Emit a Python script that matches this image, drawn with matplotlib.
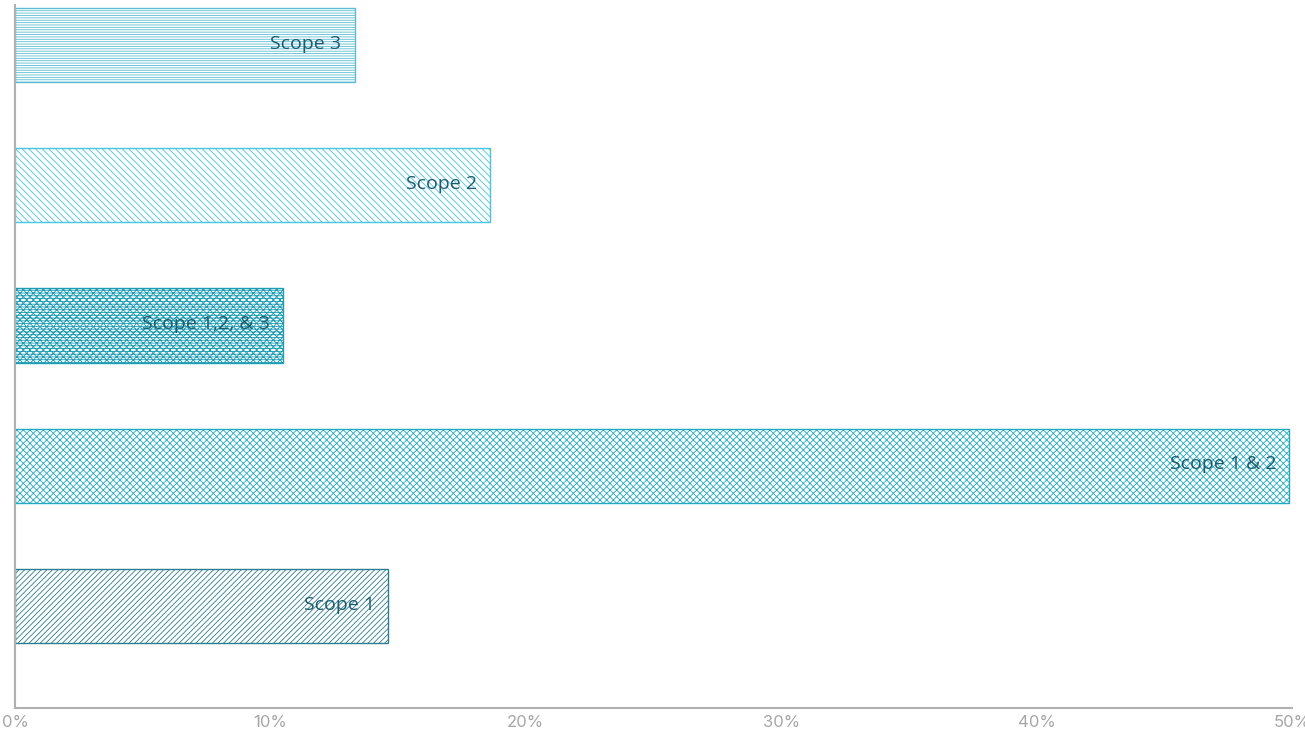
import matplotlib.pyplot as plt
import matplotlib as mpl

# values (percent of companies)
labels = ["Scope 1", "Scope 1 & 2", "Scope 1,2, & 3", "Scope 2", "Scope 3"]
values = [14.6, 49.9, 10.5, 18.6, 13.3]
colors = ["#2b7d8f", "#22a9c2", "#1e9db5", "#45c6de", "#5cbdd2"]
hatches = ["//////", "xxxxx", "xxxxx------", "\\\\\\\\\\", "-------"]
ticks = [0, 10, 20, 30, 40, 50]
tick_labels = ["0%", "10%", "20%", "30%", "40%", "50%"]

mpl.rcParams["hatch.linewidth"] = 0.6

fig = plt.figure(figsize=(13.05, 7.32), dpi=100)
ax = fig.add_axes([15 / 1305, 1 - 708 / 732, (1292 - 15) / 1305, (708 - 5) / 732])

for i, (lab, val, col, h) in enumerate(zip(labels, values, colors, hatches)):
    ax.barh(i, val, height=0.53, color="white", edgecolor=col, hatch=h, linewidth=1.0)
    ax.annotate(lab, xy=(val, i), xytext=(-9.5, 1), textcoords="offset points",
                ha="right", va="center", fontsize=14, color="#1b5c6e",
                family="Open Sans")

ax.set_xlim(0, 50)
ax.set_ylim(-0.727, 4.285)
ax.set_xticks(ticks)
ax.set_xticklabels(tick_labels)
ax.set_yticks([])
ax.tick_params(axis="x", length=0, pad=5, labelsize=12, labelcolor="#a6a6a6")
for t in ax.get_xticklabels():
    t.set_family("Inter")

for s in ["top", "right"]:
    ax.spines[s].set_visible(False)
for s in ["left", "bottom"]:
    ax.spines[s].set_color("#b0b0b0")
    ax.spines[s].set_linewidth(1.5)

fig.savefig("out.png", dpi=100)
